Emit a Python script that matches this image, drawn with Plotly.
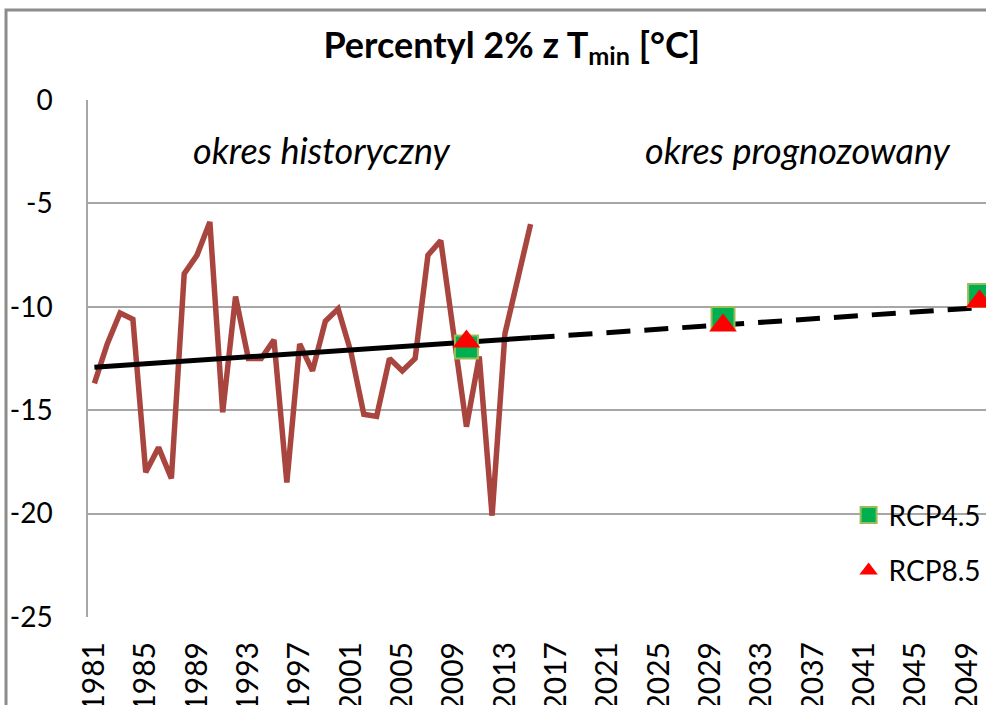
import plotly.graph_objects as go

FONT = "Lato"

years = list(range(1981, 2016))
tmin_p2 = [
    -13.7, -11.8, -10.3, -10.6, -18.0, -16.8, -18.3, -8.4, -7.5, -5.9,
    -15.1, -9.5, -12.5, -12.5, -11.6, -18.5, -11.8, -13.1, -10.7, -10.1,
    -12.2, -15.2, -15.3, -12.5, -13.1, -12.5, -7.5, -6.8, -11.3, -15.8,
    -12.4, -20.1, -11.3, -8.6, -6.0,
]

# linear trend: historical part (solid) and projection (dashed)
trend_hist_x = [1981, 2015]
trend_hist_y = [-12.92, -11.50]
trend_proj_x = [2015, 2050]
trend_proj_y = [-11.50, -10.04]

scen_years = [2010, 2030, 2050]
rcp45 = [-11.94, -10.56, -9.45]
rcp85 = [-11.68, -10.90, -9.74]

tick_years = list(range(1981, 2050, 4))
y_ticks = [0, -5, -10, -15, -20, -25]
y_labels = ["0", "-5", "-10", "-15", "-20", "-25"]

fig = go.Figure()

fig.add_trace(go.Scatter(
    x=years, y=tmin_p2, mode="lines",
    line=dict(color="#A8453F", width=5.5),
    showlegend=False,
))
fig.add_trace(go.Scatter(
    x=trend_hist_x, y=trend_hist_y, mode="lines",
    line=dict(color="black", width=5),
    showlegend=False,
))
fig.add_trace(go.Scatter(
    x=trend_proj_x, y=trend_proj_y, mode="lines",
    line=dict(color="black", width=5, dash="24px,14px"),
    showlegend=False,
))
fig.add_trace(go.Scatter(
    x=scen_years, y=rcp45, mode="markers", name="RCP4.5",
    marker=dict(symbol="square", size=23, color="#00B050",
                line=dict(color="#9BBB59", width=2)),
    cliponaxis=False, legendgroup="a",
))
fig.add_trace(go.Scatter(
    x=scen_years, y=rcp85, mode="markers", name="RCP8.5",
    marker=dict(symbol="triangle-up", size=24, color="#FF0000"),
    cliponaxis=False, legendgroup="b",
))

# outer chart border (cut by the picture on the right and bottom)
fig.add_shape(type="rect", xref="paper", yref="paper",
              x0=-0.0913, x1=1.2, y0=-0.5, y1=1.174,
              line=dict(color="#8C8C8C", width=3), layer="below")

fig.add_annotation(text="<i>okres historyczny</i>", xref="paper", yref="paper",
                   x=0.2606, y=0.903, xanchor="center", yanchor="middle",
                   showarrow=False, font=dict(family=FONT, size=36, color="black"))
fig.add_annotation(text="<i>okres prognozowany</i>", xref="paper", yref="paper",
                   x=0.7906, y=0.903, xanchor="center", yanchor="middle",
                   showarrow=False, font=dict(family=FONT, size=36, color="black"))

fig.update_layout(
    width=986, height=705,
    paper_bgcolor="white", plot_bgcolor="white",
    font=dict(family=FONT, color="black"),
    margin=dict(l=88, r=0, t=100, b=88, autoexpand=False),
    title=dict(text="<b>Percentyl 2% z T<sub>min</sub> [°C]</b>",
               x=0.519, xanchor="center", y=0.936, yanchor="middle",
               font=dict(family=FONT, size=36, color="black")),
    legend=dict(x=0.847, y=0.245, xanchor="left", yanchor="top",
                bgcolor="rgba(0,0,0,0)", font=dict(family=FONT, size=28),
                traceorder="grouped", tracegroupgap=16),
    showlegend=True,
)
fig.update_xaxes(
    range=[1980.5, 2050.5], tickvals=tick_years, tickangle=-90,
    showgrid=False, zeroline=False, showline=False, ticks="",
    tickfont=dict(family=FONT, size=30, color="black"),
    ticklabelstandoff=18,
)
fig.update_yaxes(
    range=[-25, 0], tickvals=y_ticks, ticktext=y_labels,
    showgrid=True, gridcolor="#A6A6A6", gridwidth=1.5,
    zeroline=False, showline=True, linecolor="#A6A6A6", linewidth=1.5,
    ticks="", tickfont=dict(family=FONT, size=28, color="black"),
    ticklabelstandoff=28,
)

fig.write_html(
    "out.html",
    config={"displayModeBar": False},
    post_script="document.body.style.margin='0';document.body.style.overflow='hidden';",
)
